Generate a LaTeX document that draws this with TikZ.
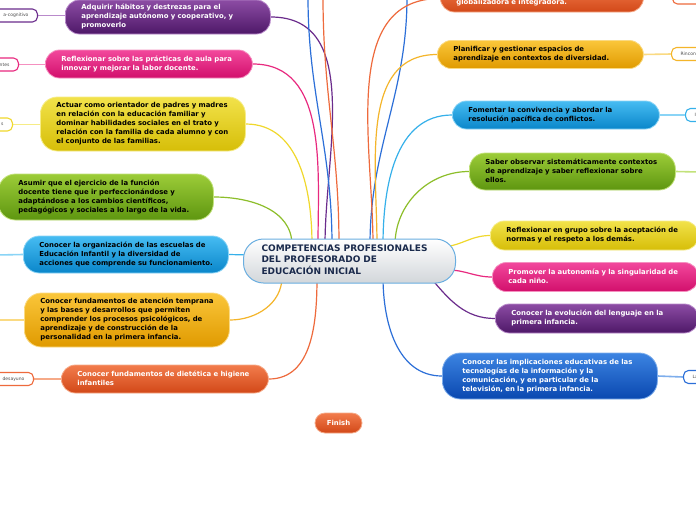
\documentclass[tikz,border=0pt]{standalone}
\usepackage{fontspec}
\setmainfont{DejaVu Sans}
\usetikzlibrary{backgrounds}
\newcommand\tl[1]{\noindent\begin{tabular}{@{}l@{}}#1\end{tabular}}
\definecolor{purA}{HTML}{8C4CA4}\definecolor{purB}{HTML}{4E1868}\definecolor{purL}{HTML}{B98ACB}
\definecolor{pnkA}{HTML}{F2489C}\definecolor{pnkB}{HTML}{D20F6C}\definecolor{pnkL}{HTML}{F590C0}
\definecolor{yelA}{HTML}{F2E24A}\definecolor{yelB}{HTML}{D6BE08}\definecolor{yelL}{HTML}{F6EC86}
\definecolor{grnA}{HTML}{9CCC38}\definecolor{grnB}{HTML}{5E9610}\definecolor{grnL}{HTML}{C2E27A}
\definecolor{lbA}{HTML}{46BCF2}\definecolor{lbB}{HTML}{0A86CA}\definecolor{lbL}{HTML}{8AD4F6}
\definecolor{orA}{HTML}{FAC63A}\definecolor{orB}{HTML}{E09A00}\definecolor{orL}{HTML}{FADA82}
\definecolor{rdA}{HTML}{F27C4C}\definecolor{rdB}{HTML}{D24818}\definecolor{rdL}{HTML}{F6AA88}
\definecolor{dbA}{HTML}{3C84E2}\definecolor{dbB}{HTML}{0A48B0}\definecolor{dbL}{HTML}{7EAEEC}
\definecolor{cPur}{HTML}{6B2C8C}\definecolor{cPnk}{HTML}{E8297F}\definecolor{cYel}{HTML}{F0D82C}
\definecolor{cGrn}{HTML}{8DBE2A}\definecolor{cLb}{HTML}{35B0EA}\definecolor{cOr}{HTML}{F4B52A}
\definecolor{cRd}{HTML}{EE6A3C}\definecolor{cDb}{HTML}{2C6FD8}
\definecolor{ctext}{HTML}{1A2A4C}\definecolor{cbord}{HTML}{6AAEE0}\definecolor{cbot}{HTML}{D2D6DA}
\tikzset{
  mm/.style={rounded corners=14pt, inner xsep=16pt, inner ysep=0pt, line width=0.8pt,
    font=\bfseries\fontsize{6.9}{9}\selectfont, align=left, anchor=west},
  purbox/.style={mm, top color=purA, bottom color=purB, draw=purL, text=white},
  pnkbox/.style={mm, top color=pnkA, bottom color=pnkB, draw=pnkL, text=white},
  yelbox/.style={mm, top color=yelA, bottom color=yelB, draw=yelL, text=black},
  grnbox/.style={mm, top color=grnA, bottom color=grnB, draw=grnL, text=black},
  lbbox/.style={mm, top color=lbA, bottom color=lbB, draw=lbL, text=black},
  orbox/.style={mm, top color=orA, bottom color=orB, draw=orL, text=black},
  rdbox/.style={mm, top color=rdA, bottom color=rdB, draw=rdL, text=white},
  dbbox/.style={mm, top color=dbA, bottom color=dbB, draw=dbL, text=white},
  sbox/.style={draw=#1, line width=1.1pt, fill=white, rounded corners=5pt, minimum height=13pt,
    inner xsep=9pt, inner ysep=0pt, font=\fontsize{4.5}{5}\selectfont, text=black!70},
  conn/.style={draw=#1, line width=1.2pt},
  sconn/.style={draw=#1, line width=1.6pt},
}
\begin{document}
\begin{tikzpicture}[x=1pt,y=-1pt]
\useasboundingbox (0,0) rectangle (696,520);
% centre
\node[mm, rounded corners=20pt, inner xsep=18pt, top color=white, bottom color=cbot, draw=cbord, line width=1pt,
  text=ctext, font=\bfseries\fontsize{9}{11}\selectfont, minimum height=44pt, text width=176pt] (c) at (243,261)
  {\tl{COMPETENCIAS PROFESIONALES\\DEL PROFESORADO DE\\EDUCACIÓN INICIAL}};
% left nodes
\node[purbox, minimum height=34pt, text width=173pt] (n1) at (65,17)
  {\tl{Adquirir hábitos y destrezas para el\\aprendizaje autónomo y cooperativo, y\\promoverlo}};
\node[pnkbox, minimum height=28pt, text width=175pt] (n2) at (45,64)
  {\tl{Reflexionar sobre las prácticas de aula para\\innovar y mejorar la labor docente.}};
\node[yelbox, rounded corners=17pt, minimum height=54pt, text width=173pt] (n3) at (40,124)
  {\tl{Actuar como orientador de padres y madres\\en relación con la educación familiar y\\dominar habilidades sociales en el trato y\\relación con la familia de cada alumno y con\\el conjunto de las familias.}};
\node[grnbox, rounded corners=17pt, minimum height=46pt, inner xsep=20pt, text width=175pt] (n4) at (-2,197)
  {\tl{Asumir que el ejercicio de la función\\docente tiene que ir perfeccionándose y\\adaptándose a los cambios científicos,\\pedagógicos y sociales a lo largo de la vida.}};
\node[lbbox, rounded corners=16pt, minimum height=37pt, text width=173pt] (n5) at (23,254.5)
  {\tl{Conocer la organización de las escuelas de\\Educación Infantil y la diversidad de\\acciones que comprende su funcionamiento.}};
\node[orbox, rounded corners=17pt, minimum height=54pt, text width=173pt] (n6) at (24,320)
  {\tl{Conocer fundamentos de atención temprana\\y las bases y desarrollos que permiten\\comprender los procesos psicológicos, de\\aprendizaje y de construcción de la\\personalidad en la primera infancia.}};
\node[rdbox, minimum height=28pt, text width=175pt] (n7) at (61,379)
  {\tl{Conocer fundamentos de dietética e higiene\\infantiles}};
% right nodes
\node[rdbox, minimum height=27pt, text width=171pt] (r0) at (440,-1.5)
  {\tl{\mbox{}\\globalizadora e integradora.}};
\node[orbox, minimum height=28pt, text width=174pt] (r1) at (437,54.5)
  {\tl{Planificar y gestionar espacios de\\aprendizaje en contextos de diversidad.}};
\node[lbbox, minimum height=28pt, text width=175pt] (r2) at (452,115)
  {\tl{Fomentar la convivencia y abordar la\\resolución pacífica de conflictos.}};
\node[grnbox, rounded corners=16pt, minimum height=37pt, text width=174pt] (r3) at (469,171.5)
  {\tl{Saber observar sistemáticamente contextos\\de aprendizaje y saber reflexionar sobre\\ellos.}};
\node[yelbox, minimum height=29pt, text width=176pt] (r4) at (490,235.5)
  {\tl{Reflexionar en grupo sobre la aceptación de\\normas y el respeto a los demás.}};
\node[pnkbox, minimum height=29pt, text width=174pt] (r5) at (492,277)
  {\tl{Promover la autonomía y la singularidad de\\cada niño.}};
\node[purbox, minimum height=29pt, text width=171pt] (r6) at (495,318.5)
  {\tl{Conocer la evolución del lenguaje en la\\primera infancia.}};
\node[dbbox, rounded corners=18pt, minimum height=46pt, inner xsep=20pt, text width=175pt] (r7) at (442,376)
  {\tl{Conocer las implicaciones educativas de las\\tecnologías de la información y la\\comunicación, y en particular de la\\televisión, en la primera infancia.}};
\node[rdbox, anchor=center, align=center, rounded corners=10pt, inner xsep=0pt, minimum width=47pt, minimum height=20pt] (fin) at (338.5,423) {Finish};
% small nodes
\node[sbox=cPur, anchor=east] (s1) at (38,15.5) {\hspace*{20pt}a-cognitivo};
\node[sbox=cPnk, anchor=east] (s2) at (19,64.5) {\hspace*{20pt}ntes};
\node[sbox=cYel, anchor=east] (s3) at (13,124.5) {\hspace*{20pt}s};
\node[sbox=cRd, anchor=east] (s7) at (34,379) {\hspace*{20pt}desayuno};
\node[sbox=cRd, anchor=west] (t0) at (672,-2.5) {\hspace*{30pt}};
\node[sbox=cOr, anchor=west] (t1) at (671,54) {Rincones\hspace*{20pt}};
\node[sbox=cLb, anchor=west] (t2) at (685,115) {I\hspace*{20pt}};
\node[sbox=cDb, anchor=west] (t7) at (683,377) {La\hspace*{20pt}};
% connector end points
\coordinate (a1) at (325,245); \coordinate (a2) at (318,245); \coordinate (a3) at (312,245);
\coordinate (a4) at (292,245); \coordinate (a5) at (332,245); \coordinate (a6) at (339,245);
\coordinate (o5) at (308,-3); \coordinate (o6) at (323,-3); \coordinate (o7) at (407,-3);
\coordinate (b1) at (370,245); \coordinate (b0) at (373,245); \coordinate (b2) at (377,245);
\coordinate (b3) at (383,245); \coordinate (b4) at (395,245);
\coordinate (b5) at (440,247); \coordinate (b6) at (448,270); \coordinate (b7) at (430,277);
\coordinate (b8) at (383,277); \coordinate (a7) at (250,255); \coordinate (a8) at (282,277);
\coordinate (a9) at (317,277);
\coordinate (e5) at (-3,255); \coordinate (e6) at (-3,320); \coordinate (e3) at (699,172);
\begin{pgfonlayer}{background}
\fill[white] (-5,-5) rectangle (701,525);
\draw[conn=cPur] (n1.east) to[out=0,in=90] (a1);
\draw[conn=cPnk] (n2.east) to[out=0,in=90] (a2);
\draw[conn=cYel] (n3.east) to[out=0,in=90] (a3);
\draw[conn=cGrn] (n4.east) to[out=0,in=90] (a4);
\draw[conn=cDb] (o5) to[out=-90,in=90] (a5);
\draw[conn=cRd] (o6) to[out=-90,in=90] (a6);
\draw[conn=cDb] (o7) to[out=-90,in=90] (b1);
\draw[conn=cRd] (r0.west) to[out=180,in=90] (b0);
\draw[conn=cOr] (r1.west) to[out=180,in=90] (b2);
\draw[conn=cLb] (r2.west) to[out=180,in=90] (b3);
\draw[conn=cGrn] (r3.west) to[out=180,in=90] (b4);
\draw[conn=cYel] (b5) to[out=0,in=180] (r4.west);
\draw[conn=cPnk] (b6) to[out=0,in=180] (r5.west);
\draw[conn=cPur] (b7) to[out=-50,in=180] (r6.west);
\draw[conn=cDb] (b8) to[out=-90,in=180] (r7.west);
\draw[conn=cLb] (a7) -- (n5.east);
\draw[conn=cOr] (a8) to[out=-90,in=0] (n6.east);
\draw[conn=cRd] (a9) to[out=-90,in=0] (n7.east);
\draw[sconn=purL] (s1.east) -- (n1.west |- s1.east);
\draw[sconn=pnkL] (s2.east) -- (n2.west |- s2.east);
\draw[sconn=yelL] (s3.east) -- (n3.west |- s3.east);
\draw[sconn=rdL] (s7.east) -- (n7.west |- s7.east);
\draw[sconn=lbL] (e5) -- (n5.west);
\draw[sconn=orL] (e6) -- (n6.west);
\draw[sconn=orL] (r1.east) -- (t1.west);
\draw[sconn=lbL] (r2.east) -- (t2.west);
\draw[sconn=grnL] (r3.east) -- (e3);
\draw[sconn=dbL] (r7.east) -- (t7.west);
\end{pgfonlayer}
\end{tikzpicture}
\end{document}
